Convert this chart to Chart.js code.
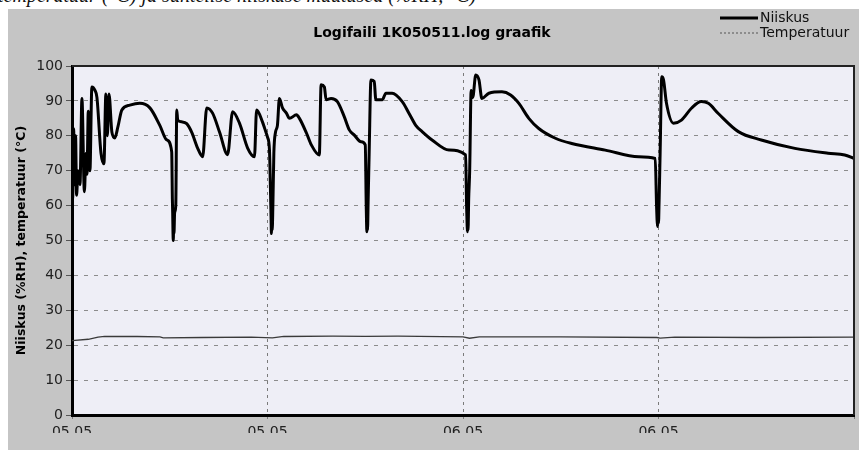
<!DOCTYPE html>
<html>
<head>
<meta charset="utf-8">
<script src="https://cdn.jsdelivr.net/npm/chart.js@4/dist/chart.umd.min.js"></script>
<style>
  html, body { margin: 0; padding: 0; background: #ffffff; }
  body { width: 859px; height: 450px; overflow: hidden; position: relative; }
  #caption { position: absolute; left: -2px; top: -16px; font: italic 20px "Liberation Serif", serif; line-height: 22px; color: #111; white-space: nowrap; }
  #panel { position: absolute; left: 8px; top: 9px; right: 0; bottom: 0; background: #c5c5c5; }
  #c { position: absolute; left: 8px; top: 9px; }
</style>
</head>
<body>
<div id="caption">temperatuur (°C) ja suhtelise niiskuse muutused (%RH, °C)</div>
<div id="panel"></div>
<canvas id="c" width="851" height="424"></canvas>
<script>
// ---- data (x in hours from start of log) ----
const chartTitle = 'Logifaili 1K050511.log graafik';
const yAxisTitle = 'Niiskus (%RH), temperatuur (°C)';
const seriesNames = ['Niiskus', 'Temperatuur'];
const xTickLabels = ['05.05', '05.05', '06.05', '06.05', ''];

const humHours = [
  0.00, 0.04, 0.10, 0.16, 0.22, 0.28, 0.37, 0.49, 0.61, 0.76, 0.86, 0.92, 1.00, 1.10, 1.22, 1.41, 1.53, 1.78, 1.96,
  2.08, 2.17, 2.27, 2.45, 2.63, 2.82, 3.06, 3.55, 4.16, 4.78, 5.39, 5.82, 6.12, 6.16, 6.18, 6.20, 6.22, 6.24, 6.26, 6.30, 6.37, 6.43, 6.49,
  6.73, 7.04, 7.35, 7.71, 8.02, 8.27, 8.63, 9.06, 9.55, 9.86, 10.29, 10.78, 11.20, 11.33, 11.69, 11.82, 12.00, 12.12,
  12.18, 12.22, 12.24, 12.27, 12.29, 12.33, 12.39, 12.49, 12.61, 12.73, 12.92, 13.16, 13.35, 13.78, 13.96, 14.39, 14.69, 15.18, 15.29,
  15.49, 15.60, 15.90, 16.29, 16.71, 17.02, 17.33, 17.74, 18.00, 18.06, 18.08, 18.10, 18.12, 18.14, 18.18, 18.24, 18.35, 18.55, 18.65,
  19.04, 19.27, 19.65, 20.27, 20.69, 21.10, 21.49, 22.10, 23.14, 24.16, 24.22, 24.25, 24.27, 24.29, 24.31, 24.35, 24.41, 24.50, 24.60,
  24.78, 24.98, 25.16, 25.59, 26.39, 26.92, 27.43, 28.04, 28.65, 29.67, 30.67, 32.73, 34.78, 35.80, 35.88, 35.91, 35.94, 35.97, 36.00,
  36.04, 36.10, 36.20, 36.31, 36.49, 36.92, 37.41, 38.02, 38.63, 39.06, 39.67, 40.90, 42.31, 44.37, 46.41, 47.43, 48.00
];
const niiskus = [
  85, 62, 82, 66, 80, 63, 70, 66, 90.7, 64, 75, 69, 87, 70, 94, 93, 91, 75, 72,
  92, 80, 92, 81, 79.4, 82.6, 87.4, 88.8, 89.3, 88, 83, 78.8, 75.4, 62, 58, 52, 50, 57, 52, 58, 60, 87.4, 84.5,
  84, 83.5, 81, 76.5, 74, 88, 86.5, 81, 74.6, 86.9, 83.5, 76.5, 74, 87.4, 84, 82.2, 79.6, 76,
  65, 56, 52, 59, 53, 60, 75, 81, 83, 90.7, 88, 86.5, 85, 86, 85, 80.8, 77.4, 74.5, 94.6,
  94, 90.3, 90.7, 89.8, 85.5, 81.7, 80.2, 78.3, 77.4, 60, 55, 52.5, 59, 53, 62, 75, 96, 95.6, 90.3,
  90.3, 92.2, 92.2, 89.8, 86.4, 83, 81.2, 78.8, 75.9, 74.5, 60, 55, 52.5, 59, 53, 62, 70, 93, 91,
  97.4, 96, 90.7, 92.2, 92.6, 91.7, 89.3, 85, 82.1, 79.3, 77.8, 75.9, 74, 73.5, 60, 56, 54, 60, 55,
  62, 75, 96.9, 96, 89.3, 83.6, 84.5, 87.9, 89.8, 89.3, 86.4, 81.2, 78.8, 76.4, 75, 74.5, 73.5
];

const tempHours = [0, 1, 1.6, 2, 4, 5.4, 5.6, 8, 11, 12.3, 13, 16, 18, 20, 24, 24.4, 25, 30, 35.9, 36.1, 37, 42, 48];
const temperatuur = [21.3, 21.7, 22.3, 22.5, 22.5, 22.4, 22.1, 22.2, 22.3, 22.1, 22.5, 22.6, 22.5, 22.6, 22.4, 22.0, 22.4, 22.4, 22.2, 22.0, 22.3, 22.2, 22.3];

// ---- build chart ----
const FONT = '"DejaVu Sans", sans-serif';
const humPts = humHours.map((h, i) => ({ x: h, y: niiskus[i] }));
const tempPts = tempHours.map((h, i) => ({ x: h, y: temperatuur[i] }));

const legendStyles = [
  { color: '#000000', width: 3, dash: [] },
  { color: '#555555', width: 1, dash: [2, 2] }
];

const plotBg = {
  id: 'plotBg',
  beforeDraw(chart) {
    const { ctx, chartArea: a } = chart;
    ctx.save();
    ctx.fillStyle = '#eeeef6';
    ctx.fillRect(a.left, a.top, a.right - a.left, a.bottom - a.top);
    ctx.restore();
  }
};

const frame = {
  id: 'frame',
  afterDraw(chart) {
    const { ctx, chartArea: a } = chart;
    ctx.save();
    ctx.strokeStyle = '#222';
    ctx.lineWidth = 2;
    ctx.beginPath();
    ctx.moveTo(a.left, a.top);
    ctx.lineTo(a.right, a.top);
    ctx.lineTo(a.right, a.bottom);
    ctx.stroke();
    ctx.restore();
  }
};

const sideLegend = {
  id: 'sideLegend',
  afterDraw(chart) {
    const { ctx, width } = chart;
    ctx.save();
    ctx.font = '14px ' + FONT;
    ctx.textBaseline = 'middle';
    ctx.textAlign = 'left';
    chart.data.datasets.forEach((ds, i) => {
      const y = 9 + i * 15;
      const st = legendStyles[i];
      ctx.strokeStyle = st.color;
      ctx.lineWidth = st.width;
      ctx.setLineDash(st.dash);
      ctx.beginPath();
      ctx.moveTo(width - 139, y);
      ctx.lineTo(width - 101, y);
      ctx.stroke();
      ctx.setLineDash([]);
      ctx.fillStyle = '#111';
      ctx.fillText(ds.label, width - 99, y);
    });
    ctx.restore();
  }
};

new Chart(document.getElementById('c'), {
  type: 'line',
  data: {
    datasets: [
      {
        label: seriesNames[0], data: humPts, borderColor: '#000000', borderWidth: 3,
        pointRadius: 0, cubicInterpolationMode: 'monotone', borderJoinStyle: 'round', borderCapStyle: 'round', order: 1
      },
      {
        label: seriesNames[1], data: tempPts, borderColor: '#3a3a3a', borderWidth: 1.3,
        pointRadius: 0, tension: 0, order: 2
      }
    ]
  },
  options: {
    responsive: false,
    animation: false,
    devicePixelRatio: 1,
    layout: { padding: { left: 0, right: 3, top: 0, bottom: 0 } },
    plugins: {
      legend: { display: false },
      tooltip: { enabled: false },
      title: {
        display: true, text: chartTitle, color: '#000',
        font: { family: FONT, size: 14, weight: 'bold' },
        padding: { top: 15.6, bottom: 24.6 }
      }
    },
    scales: {
      x: {
        type: 'linear', min: 0, max: 48,
        afterFit(s) { s.height = 18; },
        ticks: {
          stepSize: 12, color: '#222', padding: 5, maxRotation: 0, autoSkip: false,
          font: { family: FONT, size: 14 },
          callback: (v) => xTickLabels[Math.round(v / 12)] ?? ''
        },
        grid: { color: '#7a7a7a', lineWidth: 1, tickLength: 4, tickColor: '#7a7a7a', tickBorderDash: [] },
        border: { display: true, color: '#000', width: 3, dash: [3, 4] }
      },
      y: {
        min: 0, max: 100,
        afterFit(s) { s.width = 64; },
        title: {
          display: true, text: yAxisTitle, color: '#000',
          font: { family: FONT, size: 12.5, weight: 'bold' },
          padding: { top: 6.5, bottom: 0 }
        },
        ticks: { stepSize: 10, color: '#222', padding: 3, font: { family: FONT, size: 14 } },
        grid: {
          color: (c) => (c.tick && (c.tick.value === 0 || c.tick.value === 100)) ? 'rgba(0,0,0,0)' : '#8c8c8c',
          lineWidth: 1, tickLength: 6, tickColor: '#555', tickBorderDash: []
        },
        border: { display: true, color: '#000', width: 3, dash: [4, 6] }
      }
    }
  },
  plugins: [plotBg, frame, sideLegend]
});
</script>
</body>
</html>
